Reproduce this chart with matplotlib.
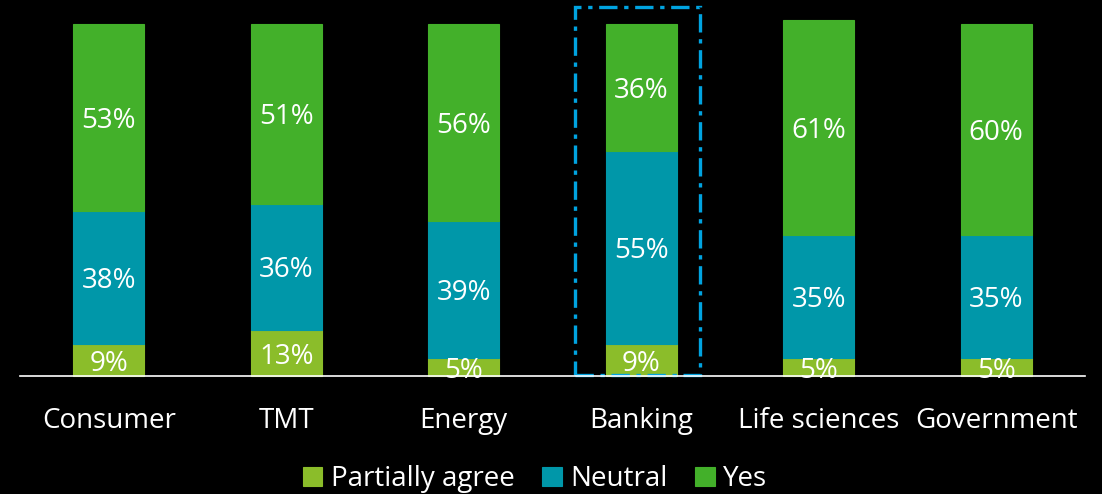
import numpy as np
import matplotlib.pyplot as plt
from matplotlib.patches import Rectangle

plt.rcParams['font.family'] = ['Open Sans', 'DejaVu Sans']

sectores = ["Consumer", "TMT", "Energy", "Banking", "Life sciences", "Government"]
parcial = [9, 13, 5, 9, 5, 5]
neutral = [38, 36, 39, 55, 35, 35]
si = [53, 51, 56, 36, 61, 60]

series = [("Partially agree", parcial, "#8BBD2A"),
          ("Neutral", neutral, "#0097A9"),
          ("Yes", si, "#43B02A")]

fig = plt.figure(figsize=(11.02, 4.94), dpi=100, facecolor="black")
ax = fig.add_axes([20 / 1102, 118 / 494, 1065 / 1102, 352 / 494])
ax.set_facecolor("black")

x = np.arange(len(sectores))
base = np.zeros(len(sectores))
for nombre, vals, color in series:
    vals = np.array(vals, dtype=float)
    ax.bar(x, vals, 0.4, bottom=base, color=color, edgecolor=color,
           linewidth=0.8, label=nombre, clip_on=False)
    for xi, b, v in zip(x, base, vals):
        ax.text(xi, b + v / 2, f"{int(v)}%", ha="center", va="center_baseline",
                color="white", fontsize=20, clip_on=False)
    base += vals

# recuadro de Banking
i = sectores.index("Banking")
caja = Rectangle((i - 0.375, 0.3), 0.705, 104.5, fill=False,
                 edgecolor="#00A3E0", linewidth=2.4, clip_on=False,
                 linestyle=(0, (5.5, 2, 1.3, 2)))
ax.add_patch(caja)

ax.set_xlim(-0.5, len(sectores) - 0.5)
ax.set_ylim(0, 100)
ax.set_xticks(x)
ax.set_xticklabels(sectores, color="white", fontsize=20)
ax.tick_params(axis="x", length=0, pad=22)
ax.set_yticks([])
for s in ["top", "right", "left"]:
    ax.spines[s].set_visible(False)
ax.spines["bottom"].set_color("white")
ax.spines["bottom"].set_linewidth(1.2)
ax.spines["bottom"].set_zorder(5)

fig.legend(loc="center", bbox_to_anchor=(535 / 1102, 1 - 479 / 494), ncol=3,
           frameon=False, fontsize=20, labelcolor="white", handlelength=0.7,
           handleheight=0.7, handletextpad=0.3, columnspacing=1.0)

fig.savefig("out.png", dpi=100, facecolor="black")
